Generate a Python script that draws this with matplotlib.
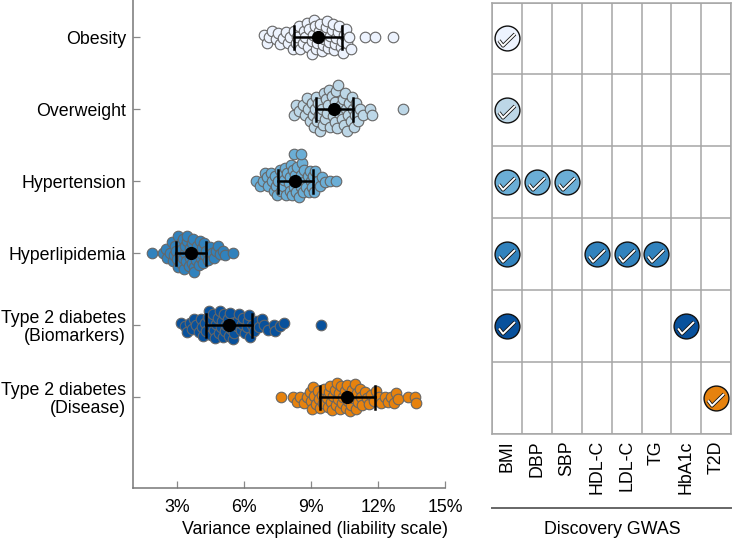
import matplotlib
matplotlib.use("Agg")
import matplotlib.pyplot as plt
from matplotlib.path import Path
import numpy as np

plt.rcParams['font.family'] = ['Liberation Sans', 'DejaVu Sans']

W, H = 733, 539
FS = 12.8
traits = ["Obesity", "Overweight", "Hypertension", "Hyperlipidemia",
          "Type 2 diabetes\n(Biomarkers)", "Type 2 diabetes\n(Disease)"]
colors = ["#EDF3FE", "#BDD7E7", "#6BAED6", "#3182BD", "#08519C", "#E6820E"]
gwas = ["BMI", "DBP", "SBP", "HDL-C", "LDL-C", "TG", "HbA1c", "T2D"]

obesity = [6.87, 7.02, 7.12, 7.27, 7.42, 7.52, 7.62, 7.72, 7.87, 7.97, 8.07, 8.17, 8.22, 8.32, 8.37, 8.47, 8.52, 8.62,
           8.67, 8.72, 8.82, 8.87, 8.92, 9.02, 9.02, 9.07, 9.12, 9.17, 9.22, 9.27, 9.32, 9.37, 9.42, 9.47, 9.52, 9.57,
           9.62, 9.67, 9.72, 9.77, 9.82, 9.87, 9.92, 9.97, 10.02, 10.07, 10.12, 10.22, 10.27, 10.32, 10.37, 10.42, 10.47,
           10.57, 10.62, 10.72, 10.77, 11.4, 11.85, 12.65]
overweight = [8.22, 8.32, 8.47, 8.62, 8.72, 8.82, 8.87, 8.97, 9.02, 9.07, 9.12, 9.17, 9.22, 9.27, 9.32, 9.37, 9.42, 9.47,
              9.52, 9.57, 9.62, 9.67, 9.72, 9.77, 9.82, 9.87, 9.92, 9.97, 10.02, 10.07, 10.07, 10.12, 10.17, 10.22, 10.27,
              10.32, 10.37, 10.42, 10.47, 10.52, 10.57, 10.62, 10.67, 10.72, 10.77, 10.82, 10.87, 10.92, 10.97, 11.02,
              11.12, 11.17, 11.32, 11.65, 11.75, 13.1]
hypertension = [6.54, 6.69, 6.84, 6.94, 7.04, 7.09, 7.19, 7.24, 7.34, 7.39, 7.44, 7.49, 7.54, 7.59, 7.64, 7.69, 7.74, 7.79,
                7.84, 7.89, 7.94, 7.99, 8.04, 8.04, 8.09, 8.14, 8.19, 8.24, 8.24, 8.29, 8.34, 8.39, 8.44, 8.49, 8.54, 8.54,
                8.59, 8.64, 8.69, 8.74, 8.79, 8.84, 8.89, 8.94, 8.99, 9.04, 9.09, 9.14, 9.19, 9.29, 9.39, 9.49, 9.64,
                9.87, 10.12]
hypertension_top = [8.24, 8.54]
hyperlipidemia = [1.86, 2.36, 2.51, 2.56, 2.66, 2.76, 2.81, 2.86, 2.91, 2.96, 3.01, 3.06, 3.06, 3.11, 3.16, 3.16, 3.21, 3.26,
                  3.26, 3.31, 3.36, 3.36, 3.41, 3.46, 3.46, 3.51, 3.56, 3.56, 3.61, 3.66, 3.66, 3.71, 3.76, 3.76, 3.81, 3.86,
                  3.86, 3.91, 3.96, 4.01, 4.06, 4.06, 4.11, 4.16, 4.21, 4.26, 4.31, 4.36, 4.46, 4.56, 4.66, 4.76, 4.81, 4.91,
                  5.06, 5.16, 5.5]
t2d_biomarkers = [3.16, 3.36, 3.46, 3.56, 3.66, 3.76, 3.86, 3.96, 4.06, 4.11, 4.16, 4.26, 4.31, 4.36, 4.41, 4.46, 4.51, 4.56,
                  4.61, 4.66, 4.71, 4.76, 4.81, 4.86, 4.91, 4.96, 5.01, 5.06, 5.11, 5.16, 5.21, 5.26, 5.31, 5.36, 5.41,
                  5.46, 5.51, 5.56, 5.66, 5.71, 5.76, 5.86, 5.91, 5.96, 6.06, 6.11, 6.16, 6.21, 6.26, 6.36, 6.46, 6.56, 6.66,
                  6.8, 6.9, 7.05, 7.35, 7.4, 7.6, 7.8, 9.44]
t2d_disease = [7.65, 8.2, 8.35, 8.5, 8.7, 8.8, 8.95, 9.0, 9.05, 9.1, 9.15, 9.2, 9.3, 9.35, 9.4, 9.5, 9.55, 9.6,
               9.7, 9.75, 9.8, 9.85, 9.9, 9.95, 10.0, 10.05, 10.1, 10.15, 10.2, 10.25, 10.3, 10.35, 10.4, 10.45,
               10.5, 10.55, 10.6, 10.65, 10.7, 10.75, 10.8, 10.85, 10.9, 10.95, 11.0, 11.05, 11.1, 11.2, 11.25,
               11.3, 11.4, 11.5, 11.6, 11.7, 11.8, 11.9, 12.05, 12.15, 12.3, 12.45, 12.6, 12.7, 12.8, 12.9,
               13.35, 13.65, 13.7]
series = [obesity, overweight, hypertension, hyperlipidemia, t2d_biomarkers, t2d_disease]
means = [9.31, 10.03, 8.28, 3.61, 5.32, 10.61]
lows = [8.23, 9.22, 7.52, 2.94, 4.29, 9.40]
highs = [10.39, 10.88, 9.09, 4.29, 6.35, 11.87]
selected = [[0], [0], [0, 1, 2], [0, 3, 4, 5], [0, 6], [7]]
swarm_gaps = [6.0, 6.2, 5.2, 4.8, 5.6, 5.4]


def rect(l, t, r, b):
    return [l / W, 1 - b / H, (r - l) / W, (b - t) / H]


fig = plt.figure(figsize=(W / 100, H / 100), dpi=100)
ax = fig.add_axes(rect(132.5, 0, 445, 487.5))
ax.set_xlim(1, 15)
ax.set_ylim(5 + (487.5 - 397) / 72, -37 / 72)

px_per_x = (445 - 132.5) / 14
px_per_y = 72.0


def swarm(vals, gap):
    """Greedy beeswarm offsets (row units), placing values nearest to the centre line."""
    placed = []
    out = {}
    order = np.argsort(np.abs(np.array(vals) - np.median(vals)))
    for i in order:
        x = vals[i] * px_per_x
        k = 0
        while True:
            cand = 0 if k == 0 else ((k + 1) // 2) * 1.2 * (1 if k % 2 else -1)
            if all((x - px) ** 2 + (cand - py) ** 2 >= gap ** 2 for px, py in placed):
                break
            k += 1
        placed.append((x, cand))
        out[i] = cand
    return [out[i] / px_per_y for i in range(len(vals))]


for row, (vals, col) in enumerate(zip(series, colors)):
    off = swarm(vals, swarm_gaps[row])
    ax.scatter(vals, [row + o for o in off], s=58, color=col, edgecolor="#666666",
               linewidth=0.8, zorder=2)
    if row == 2:
        ax.scatter(hypertension_top, [row - 27 / 72] * 2, s=58, color=col, edgecolor="#666666",
                   linewidth=0.8, zorder=2)
    ax.plot([lows[row], highs[row]], [row, row], color="black", lw=1.8, zorder=3)
    for c in (lows[row], highs[row]):
        ax.plot([c, c], [row - 11.5 / 72, row + 11.5 / 72], color="black", lw=1.8, zorder=3)
    ax.scatter([means[row]], [row], s=72, color="black", zorder=4)

ax.set_xticks([3, 6, 9, 12, 15], ["3%", "6%", "9%", "12%", "15%"])
ax.set_yticks(range(6), traits)
ax.tick_params(axis='both', labelsize=FS, direction='in', length=5.2, width=0.9, color="#888888")
ax.tick_params(axis='y', pad=4.6)
ax.tick_params(axis='x', pad=8.5)
for lab in ax.get_yticklabels():
    lab.set_linespacing(1.05)
for s in ("top", "right"):
    ax.spines[s].set_visible(False)
for s in ("left", "bottom"):
    ax.spines[s].set_color("#777777")
    ax.spines[s].set_linewidth(1.1)
fig.text(315 / W, 1 - 529.5 / H, "Variance explained (liability scale)", ha="center", va="center", fontsize=FS)

# Right panel
ax2 = fig.add_axes(rect(492.5, 2.5, 731, 434))
ax2.set_xlim(0, 8)
ax2.set_ylim(6, 0)
ax2.set_xticks(range(9))
ax2.set_yticks(range(7))
ax2.grid(True, color="#A6A6A6", lw=1.1)
ax2.set_axisbelow(True)
ax2.tick_params(length=0, labelleft=False, labelbottom=False)
for s in ax2.spines.values():
    s.set_color("#A6A6A6")
    s.set_linewidth(1.1)

check = Path([(-8.5, -2.0), (-4.5, -7.3), (7.5, 4.5)], [Path.MOVETO, Path.LINETO, Path.LINETO])
for row, cols in enumerate(selected):
    for c in cols:
        ax2.scatter([c + 0.5], [row + 0.5], s=320, color=colors[row], edgecolor="#111111",
                    linewidth=1.0, zorder=3, clip_on=False)
        ax2.plot([c + 0.5], [row + 0.5], marker=check, ms=12.2, mfc="none", mec="#111111",
                 mew=2.6, zorder=4, clip_on=False)
        ax2.plot([c + 0.5], [row + 0.5], marker=check, ms=12.2, mfc="none", mec="white",
                 mew=1.4, zorder=5, clip_on=False)

for i, name in enumerate(gwas):
    ax2.annotate(name, (i + 0.5, 6), xytext=(0, -4.5), textcoords="offset points", rotation=90,
                 ha="center", va="top", fontsize=FS, annotation_clip=False)

fig.add_artist(plt.Line2D([492.5 / W, 731 / W], [1 - 508 / H, 1 - 508 / H], color="#666666", lw=1.4))
fig.text(612 / W, 1 - 529.5 / H, "Discovery GWAS", ha="center", va="center", fontsize=FS)

fig.savefig("out.png", dpi=100)
